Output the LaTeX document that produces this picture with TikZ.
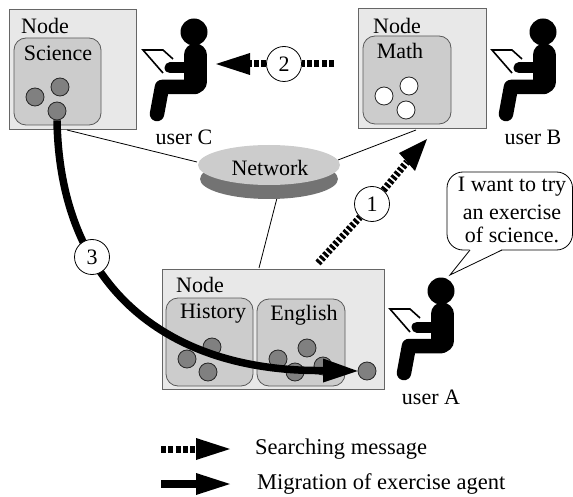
\documentclass[tikz,border=0pt]{standalone}
\usepackage{fontspec}
\setmainfont{Liberation Serif}
\usetikzlibrary{arrows.meta}
\tikzset{
  lab/.style={inner sep=0pt,font=\fontsize{22}{26}\selectfont},
  leglab/.style={inner sep=0pt,font=\fontsize{22.5}{26}\selectfont},
  outerbox/.style={draw=black!60,line width=0.9pt,fill=black!9},
  innerbox/.style={draw=black!65,line width=0.8pt,fill=black!20,rounded corners=12pt},
  agent/.style={circle,draw=black!85,line width=0.8pt,fill=black!50,minimum size=18pt,inner sep=0pt},
  whiteagent/.style={agent,fill=white},
  numcirc/.style={circle,draw=black,line width=0.8pt,fill=white,minimum size=35pt,inner sep=0pt,font=\fontsize{22}{26}\selectfont},
  link/.style={draw=black,line width=0.8pt},
  dashline/.style={draw=black,line width=7pt,dash pattern=on 5pt off 2.3pt},
  finedash/.style={draw=black,line width=7pt,dash pattern=on 3pt off 2pt},
  solidline/.style={draw=black,line width=7.5pt},
  headfill/.style={fill=black},
  pics/person/.style={code={
    \fill[black] (0,0) circle (13.5);
    \draw[black,line width=23pt,line cap=round] (1,23) -- (1,50);
    \draw[black,line width=14.5pt,line cap=round,line join=round] (1,55) -- (-32,55) -- (-37,82);
    \draw[black,line width=11pt,line cap=round] (-24,36) -- (0,36);
    \draw[black,line width=1.6pt] (-21,27) -- (-31,18) -- (-51,18) -- (-31,41);
  }}
}
\begin{document}
\begin{tikzpicture}[x=1pt,y=-1pt]
\useasboundingbox (0,0) rectangle (573,497);
% boxes
\path[outerbox] (9,9) rectangle (136,129);
\path[innerbox] (14,38) rectangle (101,125);
\path[outerbox] (358,8) rectangle (486,128);
\path[innerbox] (363,36) rectangle (451,124);
\path[outerbox] (162,269) rectangle (384,389);
\path[innerbox] (166,298) rectangle (253,386);
\path[innerbox] (257,299) rectangle (345,386);
\coordinate (sciL) at (67,130);
\coordinate (mathL) at (416,130);
\coordinate (botL) at (259,268);
\coordinate (netL) at (197,162);
\coordinate (netR) at (338,160);
\coordinate (netB) at (277,198);
% links
\draw[link] (sciL) -- (netL);
\draw[link] (mathL) -- (netR);
\draw[link] (botL) -- (netB);
% network
\shade[left color=black!55,middle color=black!82,right color=black!55] (269,179) ellipse[x radius=69,y radius=20];
\fill[black!20] (269,165) ellipse[x radius=71,y radius=20];
\node[lab] (network) at (270,168) {Network};
% labels
\node[lab] (n1) at (45,26) {Node};
\node[lab] (s) at (58,53) {Science};
\node[lab] (n2) at (397,26) {Node};
\node[lab] (m) at (400,51) {Math};
\node[lab] (n3) at (200,285) {Node};
\node[lab] (h) at (213,314) {History};
\node[lab] (e) at (304,315) {English};
% agents
\node[agent] (a1) at (35,97) {};
\node[agent] (a2) at (60,87) {};
\node[agent] (a3) at (57,111) {};
\node[whiteagent] (b1) at (384,96) {};
\node[whiteagent] (b2) at (409,86) {};
\node[whiteagent] (b3) at (406,110) {};
\node[agent] (c1) at (187,359) {};
\node[agent] (c2) at (212,347) {};
\node[agent] (c3) at (208,372) {};
\node[agent] (c4) at (278,359) {};
\node[agent] (c5) at (295,372) {};
\node[agent] (c6) at (307,348) {};
\node[agent] (c7) at (323,366) {};
\node[agent] (target) at (367,371) {};
% people
\pic at (194,32) {person};
\pic at (543,32) {person};
\pic at (441,291) {person};
\node[lab] (uc) at (184,137) {user C};
\node[lab] (ub) at (533,137) {user B};
\node[lab] (ua) at (431,397) {user A};
% arrow 3
\coordinate (head3) at (323,370.5);
\draw[solidline] (a3.south) .. controls (60,290) and (170,372) .. (head3);
\fill[headfill] (323,358.5) -- (target.west) -- (323,382.5) -- cycle;
\node[numcirc] (c3n) at (92,257) {3};
% arrow 2
\coordinate (tip2) at (216,64);
\node[numcirc] (c2n) at (284,64) {2};
\coordinate (end2) at (334,64);
\coordinate (base2) at (250,64);
\draw[dashline] (end2) -- (c2n);
\draw[dashline] (c2n) -- (base2);
\fill[headfill] (tip2) -- (250,53) -- (250,75) -- cycle;
% arrow 1
\coordinate (start1) at (318,263);
\coordinate (tip1) at (427,139);
\coordinate (base1) at (407,162);
\node[numcirc] (c1n) at (372,204) {1};
\draw[finedash] (start1) -- (c1n);
\draw[finedash] (c1n) -- (base1);
\fill[headfill] (tip1) -- (399,153) -- (415,171) -- cycle;
% bubble
\path[draw=black,line width=0.8pt,fill=white,rounded corners=16pt] (447,172) rectangle (572.5,250);
\fill[white] (470,249) -- (502,249) -- (450,275) -- cycle;
\coordinate (tail) at (450,275);
\draw[black,line width=0.8pt] (470,250) -- (tail) -- (502,250);
\node[lab] (t1) at (512,187) {I want to try};
\node[lab] (t2) at (512,212) {an exercise};
\node[lab] (t3) at (512,235) {of science.};
% legend
\coordinate (l1s) at (161,449);
\coordinate (l1b) at (196,449);
\coordinate (l1t) at (230,449);
\draw[dashline] (l1s) -- (l1b);
\fill[headfill] (l1t) -- (196,438) -- (196,460) -- cycle;
\coordinate (l2s) at (161,484);
\coordinate (l2b) at (196,484);
\coordinate (l2t) at (230,484);
\draw[solidline] (l2s) -- (l2b);
\fill[headfill] (l2t) -- (196,473) -- (196,495) -- cycle;
\node[leglab,anchor=west] (lt1) at (255,449) {Searching message};
\node[leglab,anchor=west] (lt2) at (257,484) {Migration of exercise agent};
\end{tikzpicture}
\end{document}
